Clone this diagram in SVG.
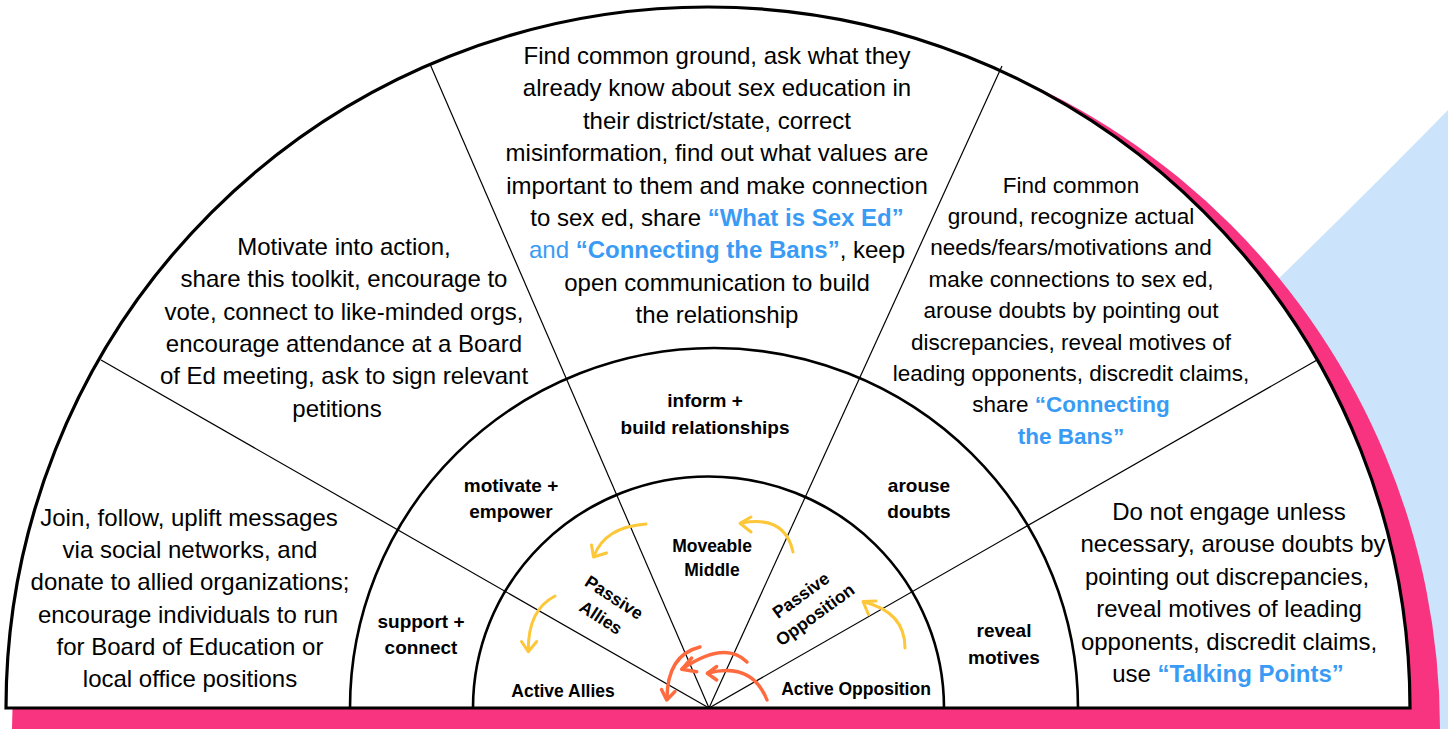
<svg xmlns="http://www.w3.org/2000/svg" width="1448" height="729" viewBox="0 0 1448 729">
<style>
.t{font-family:"Liberation Sans",Arial,Helvetica,sans-serif;fill:#000;text-anchor:middle}
.body{font-size:24px}
.rb{font-size:22.5px}
.lbl{font-size:19px;font-weight:bold}
.ilbl{font-size:17.5px;font-weight:bold}
.hl{fill:#3A9BF4}
.hlb{fill:#3A9BF4;font-weight:bold}
.ring{fill:none;stroke:#000;stroke-width:2.6}
.spoke{stroke:#000;stroke-width:1.2;fill:none}
.ya{fill:none;stroke:#FDC73A;stroke-width:3;stroke-linecap:round;stroke-linejoin:round}
.ra{fill:none;stroke:#FF6A3E;stroke-width:3.4;stroke-linecap:round;stroke-linejoin:round}
</style>
<rect x="0" y="0" width="1448" height="729" fill="#FFFFFF"/>
<g id="backdrop">
<path d="M1448,110 Q1365,195 1230,326 L1230,729 L1448,729 Z" fill="#CCE4FB"/>
<path d="M12,729 A714,713 0 0 1 1440,729 Z" fill="#F8337F"/>
<path d="M6,708 A702,701 0 0 1 1410,708 Z" fill="#FFFFFF"/>
</g>
<g id="rings">
<line class="spoke" x1="709" y1="708" x2="101" y2="360"/>
<line class="spoke" x1="709" y1="708" x2="430" y2="64"/>
<line class="spoke" x1="709" y1="708" x2="1002" y2="66"/>
<line class="spoke" x1="709" y1="708" x2="1317" y2="360"/>
<path class="ring" d="M350,708 A364,360 0 0 1 1078,708"/>
<path class="ring" d="M473,708 A235.5,231.5 0 0 1 944,708"/>
<path d="M6,708 A702,701 0 0 1 1410,708 Z" fill="none" stroke="#000" stroke-width="3.2"/>
</g>
<g id="node-inform" class="t">
<text class="body" x="717" y="64"><tspan x="717">Find common ground, ask what they</tspan><tspan x="717" dy="32.4">already know about sex education in</tspan><tspan x="717" dy="32.4">their district/state, correct</tspan><tspan x="717" dy="32.4">misinformation, find out what values are</tspan><tspan x="717" dy="32.4">important to them and make connection</tspan><tspan x="717" dy="32.4">to sex ed, share <tspan class="hlb">“What is Sex Ed”</tspan></tspan><tspan x="717" dy="32.4"><tspan class="hl">and </tspan><tspan class="hlb">“Connecting the Bans”</tspan>, keep</tspan><tspan x="717" dy="32.4">open communication to build</tspan><tspan x="717" dy="32.4">the relationship</tspan></text>
<text class="lbl" x="705" y="407">inform +</text>
<text class="lbl" x="705" y="434">build relationships</text>
</g>
<g id="node-motivate" class="t">
<text class="body" x="344" y="255"><tspan x="344">Motivate into action,</tspan><tspan x="344" dy="32.3">share this toolkit, encourage to</tspan><tspan x="344" dy="32.3">vote, connect to like-minded orgs,</tspan><tspan x="344" dy="32.3">encourage attendance at a Board</tspan><tspan x="344" dy="32.3">of Ed meeting, ask to sign relevant</tspan><tspan x="337" dy="32.3">petitions</tspan></text>
<text class="lbl" x="511" y="492">motivate +</text>
<text class="lbl" x="511" y="518">empower</text>
</g>
<g id="node-support" class="t">
<text class="body" x="190" y="526"><tspan x="189">Join, follow, uplift messages</tspan><tspan x="190" dy="32.2">via social networks, and</tspan><tspan x="190" dy="32.2">donate to allied organizations;</tspan><tspan x="188" dy="32.2">encourage individuals to run</tspan><tspan x="190" dy="32.2">for Board of Education or</tspan><tspan x="190" dy="32.2">local office positions</tspan></text>
<text class="lbl" x="421" y="628">support +</text>
<text class="lbl" x="421" y="654">connect</text>
</g>
<g id="node-arouse" class="t">
<text class="rb" x="1071" y="192.5"><tspan x="1071">Find common</tspan><tspan x="1071" dy="31.4">ground, recognize actual</tspan><tspan x="1071" dy="31.4">needs/fears/motivations and</tspan><tspan x="1071" dy="31.4">make connections to sex ed,</tspan><tspan x="1071" dy="31.4">arouse doubts by pointing out</tspan><tspan x="1071" dy="31.4">discrepancies, reveal motives of</tspan><tspan x="1071" dy="31.4">leading opponents, discredit claims,</tspan><tspan x="1071" dy="31.4">share <tspan class="hlb">“Connecting</tspan></tspan><tspan x="1071" dy="31.4" class="hlb">the Bans”</tspan></text>
<text class="lbl" x="919" y="492">arouse</text>
<text class="lbl" x="919" y="518">doubts</text>
</g>
<g id="node-reveal" class="t">
<text class="body" x="1229" y="520"><tspan x="1229">Do not engage unless</tspan><tspan x="1233" dy="32.4">necessary, arouse doubts by</tspan><tspan x="1227" dy="32.4">pointing out discrepancies,</tspan><tspan x="1229" dy="32.4">reveal motives of leading</tspan><tspan x="1229" dy="32.4">opponents, discredit claims,</tspan><tspan x="1228" dy="32.4">use <tspan class="hlb">“Talking Points”</tspan></tspan></text>
<text class="lbl" x="1004" y="637">reveal</text>
<text class="lbl" x="1004" y="664">motives</text>
</g>
<g id="node-active-allies" class="t">
<text class="ilbl" x="563" y="697">Active Allies</text>
</g>
<g id="node-passive-allies" class="t" transform="translate(607.5,607.5) rotate(33)">
<text class="ilbl" x="0" y="-6">Passive</text>
<text class="ilbl" x="0" y="18">Allies</text>
</g>
<g id="node-moveable-middle" class="t">
<text class="ilbl" x="712" y="552">Moveable</text>
<text class="ilbl" x="712" y="576">Middle</text>
</g>
<g id="node-passive-opposition" class="t" transform="translate(808,605) rotate(-36)">
<text class="ilbl" x="0" y="-6">Passive</text>
<text class="ilbl" x="0" y="18">Opposition</text>
</g>
<g id="node-active-opposition" class="t">
<text class="ilbl" x="856" y="695">Active Opposition</text>
</g>
<g id="connectors">
<path class="ya" d="M646,524 Q605,527 594,556"/>
<path class="ya" d="M591.5,545 L593.5,557 L606.5,553"/>
<path class="ya" d="M555,596 Q528,610 528.3,650"/>
<path class="ya" d="M521.5,641.5 L528.3,651.7 L536.7,641.5"/>
<path class="ya" d="M793,552 Q785,515 742,523"/>
<path class="ya" d="M751,517 L740,523.3 L751,532"/>
<path class="ya" d="M905,648 Q905,612 864,602"/>
<path class="ya" d="M876,601 L863,601.5 L868.5,614.5"/>
<path class="ra" d="M700,647 Q667,655 667,699"/>
<path class="ra" d="M661.5,689.5 L666.7,700 L675,691.5"/>
<path class="ra" d="M747,662 Q725,640 682,669"/>
<path class="ra" d="M691.7,658 L681.7,669.3 L696.7,671.7"/>
<path class="ra" d="M767,700 Q752,662 708,673"/>
<path class="ra" d="M716.7,666.5 L707.3,673.3 L716.7,680"/>
</g>
</svg>
